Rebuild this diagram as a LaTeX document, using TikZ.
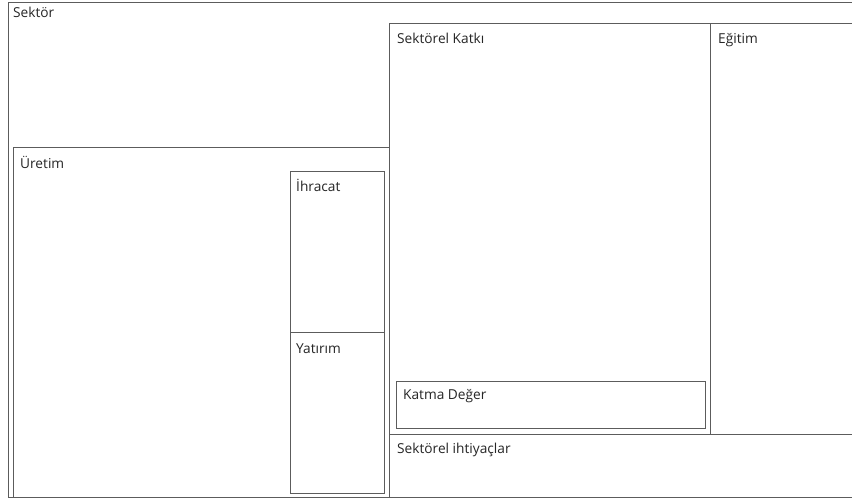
\documentclass[tikz,border=0pt]{standalone}
\usepackage{fontspec}
\setmainfont{Open Sans}
\definecolor{linegray}{HTML}{5C5C5C}
\definecolor{textgray}{HTML}{262626}
\begin{document}
\begin{tikzpicture}[x=1pt,y=-1pt,
  box/.style={draw=linegray, line width=1pt},
  lbl/.style={anchor=base west, inner sep=0pt, text=textgray, font=\fontsize{13.7}{16}\selectfont}]
\useasboundingbox[fill=white] (0,0) rectangle (852,500);
% boxes
\draw[box] (8,2.5) rectangle (860,497);
\coordinate (sektor) at (8,2.5);
\draw[box] (13,148) rectangle (389,497);
\coordinate (uretim) at (13,148);
\draw[box] (389,24) rectangle (710,434);
\coordinate (katki) at (389,24);
\draw[box] (710,24) rectangle (860,434);
\coordinate (egitim) at (710,24);
\draw[box] (396,381) rectangle (705,428);
\coordinate (katma) at (396,381);
\draw[box] (389,434) rectangle (860,497);
\coordinate (ihtiyac) at (389,434);
\draw[box] (290,172) rectangle (384,332);
\coordinate (ihracat) at (290,172);
\draw[box] (290,332) rectangle (384,493);
\coordinate (yatirim) at (290,332);
% labels
\node[lbl] (tSektor) at ([shift={(5,15)}]sektor) {Sektör};
\node[lbl] (tUretim) at ([shift={(7,21)}]uretim) {Üretim};
\node[lbl] (tIhracat) at ([shift={(6,20)}]ihracat) {İhracat};
\node[lbl] (tYatirim) at ([shift={(6,21)}]yatirim) {Yatırım};
\node[lbl] (tKatki) at ([shift={(8,20)}]katki) {Sektörel Katkı};
\node[lbl] (tEgitim) at ([shift={(8,20)}]egitim) {Eğitim};
\node[lbl] (tKatma) at ([shift={(7,18)}]katma) {Katma Değer};
\node[lbl] (tIhtiyac) at ([shift={(8,19)}]ihtiyac) {Sektörel ihtiyaçlar};
\end{tikzpicture}
\end{document}
